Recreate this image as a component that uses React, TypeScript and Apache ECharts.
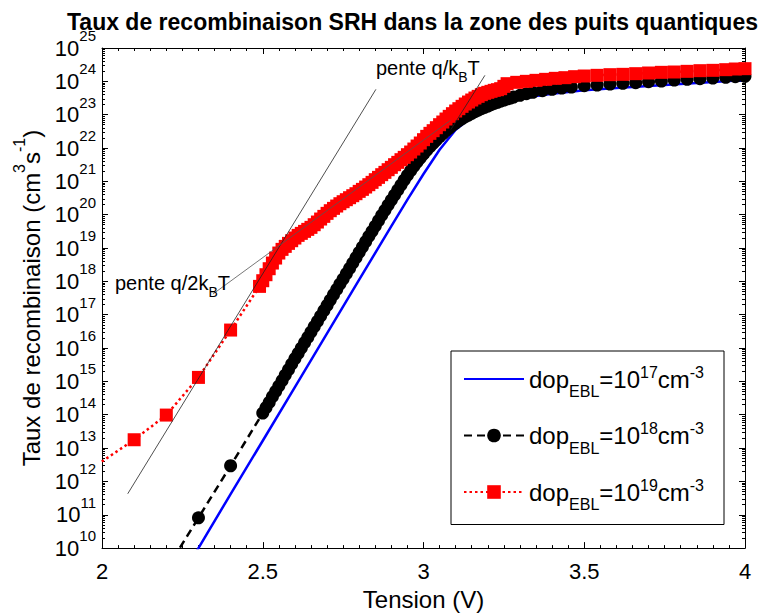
import React, { useEffect, useRef } from 'react';
import * as echarts from 'echarts';

const FONT = "'Liberation Sans', Arial, Helvetica, sans-serif";

const TITLE = 'Taux de recombinaison SRH dans la zone des puits quantiques';
const X_NAME = 'Tension (V)';

// x: tension (V); y: log10 of the recombination rate (cm^-3 s^-1)
const blueVoltage = [2.2, 2.3, 2.4, 2.5, 2.6, 2.7, 2.8, 2.9, 2.95, 3.0, 3.05, 3.1, 3.15, 3.2, 3.25, 3.3, 3.35, 3.4, 3.5, 3.6, 3.7, 3.8, 3.9, 4.0];
const blueLog10Rate = [8.39, 10.0, 11.62, 13.22, 14.83, 16.44, 18.05, 19.66, 20.45, 21.22, 21.95, 22.55, 22.93, 23.17, 23.34, 23.46, 23.56, 23.63, 23.73, 23.8, 23.86, 23.92, 23.98, 24.04];

const blackVoltage = [
  2.2, 2.3, 2.4,
  2.5, 2.51, 2.52, 2.53, 2.54, 2.55, 2.56, 2.57, 2.58, 2.59,
  2.6, 2.61, 2.62, 2.63, 2.64, 2.65, 2.66, 2.67, 2.68, 2.69,
  2.7, 2.71, 2.72, 2.73, 2.74, 2.75, 2.76, 2.77, 2.78, 2.79,
  2.8, 2.81, 2.82, 2.83, 2.84, 2.85, 2.86, 2.87, 2.88, 2.89,
  2.9, 2.91, 2.92, 2.93, 2.94, 2.95, 2.96, 2.97, 2.98, 2.99,
  3.0, 3.01, 3.02, 3.03, 3.04, 3.05, 3.06, 3.07, 3.08, 3.09,
  3.1, 3.11, 3.12, 3.13, 3.14, 3.15, 3.16, 3.17, 3.18, 3.19,
  3.2, 3.21, 3.22, 3.23, 3.24, 3.25, 3.26, 3.27, 3.28,
  3.3, 3.32, 3.34, 3.37, 3.4, 3.43, 3.46, 3.5, 3.54, 3.58,
  3.62, 3.66, 3.7, 3.74, 3.78, 3.82, 3.86, 3.9, 3.94, 3.97, 4.0,
];
const blackLog10Rate = [
  9.35, 10.91, 12.47,
  14.05, 14.21, 14.37, 14.54, 14.7, 14.86, 15.02, 15.19, 15.35, 15.52,
  15.68, 15.84, 16.0, 16.16, 16.32, 16.48, 16.64, 16.8, 16.96, 17.12,
  17.28, 17.44, 17.6, 17.76, 17.92, 18.07, 18.23, 18.39, 18.55, 18.71,
  18.87, 19.03, 19.19, 19.35, 19.5, 19.66, 19.82, 19.98, 20.13, 20.29,
  20.44, 20.59, 20.74, 20.89, 21.04, 21.18, 21.32, 21.45, 21.58, 21.7,
  21.82, 21.93, 22.04, 22.14, 22.24, 22.34, 22.43, 22.52, 22.6, 22.68,
  22.75, 22.82, 22.88, 22.94, 22.99, 23.04, 23.09, 23.14, 23.18, 23.22,
  23.26, 23.3, 23.34, 23.37, 23.41, 23.44, 23.47, 23.5, 23.53,
  23.58, 23.63, 23.67, 23.72, 23.76, 23.8, 23.83, 23.87, 23.89, 23.92,
  23.94, 23.96, 23.99, 24.01, 24.04, 24.06, 24.08, 24.1, 24.12, 24.14, 24.15,
];

const redVoltage = [
  1.9, 2.1, 2.2, 2.3, 2.4,
  2.49, 2.5, 2.51, 2.52, 2.53, 2.54, 2.55, 2.56, 2.57, 2.58, 2.59,
  2.6, 2.61, 2.62, 2.63, 2.64, 2.65, 2.66, 2.67, 2.68, 2.69,
  2.7, 2.71, 2.72, 2.73, 2.74, 2.75, 2.76, 2.77, 2.78, 2.79,
  2.8, 2.81, 2.82, 2.83, 2.84, 2.85, 2.86, 2.87, 2.88, 2.89,
  2.9, 2.91, 2.92, 2.93, 2.94, 2.95, 2.96, 2.97, 2.98, 2.99,
  3.0, 3.01, 3.02, 3.03, 3.04, 3.05, 3.06, 3.07, 3.08, 3.09,
  3.1, 3.11, 3.12, 3.13, 3.14, 3.15, 3.16, 3.17, 3.18, 3.19,
  3.2, 3.21, 3.22, 3.23, 3.24, 3.25, 3.26,
  3.29, 3.32, 3.35, 3.38, 3.41, 3.44, 3.47, 3.5, 3.54, 3.58,
  3.62, 3.66, 3.7, 3.74, 3.78, 3.82, 3.86, 3.9, 3.94, 3.97, 4.0,
];
const redLog10Rate = [
  11.95, 13.25, 13.99, 15.12, 16.54,
  17.85, 18.02, 18.2, 18.38, 18.55, 18.7, 18.85, 18.96, 19.05, 19.14, 19.22,
  19.3, 19.38, 19.44, 19.5, 19.56, 19.62, 19.7, 19.78, 19.87, 19.95,
  20.04, 20.12, 20.19, 20.26, 20.33, 20.39, 20.45, 20.51, 20.57, 20.63,
  20.7, 20.76, 20.83, 20.9, 20.97, 21.05, 21.12, 21.2, 21.27, 21.35,
  21.42, 21.5, 21.57, 21.65, 21.72, 21.8, 21.88, 21.97, 22.06, 22.15,
  22.25, 22.35, 22.44, 22.52, 22.61, 22.7, 22.78, 22.87, 22.95, 23.03,
  23.11, 23.18, 23.25, 23.32, 23.38, 23.44, 23.5, 23.55, 23.6, 23.64,
  23.67, 23.7, 23.73, 23.75, 23.78, 23.85, 23.93,
  23.97, 24.0, 24.03, 24.06, 24.09, 24.11, 24.14, 24.16, 24.18, 24.2,
  24.21, 24.23, 24.25, 24.27, 24.28, 24.3, 24.32, 24.33, 24.35, 24.37, 24.38,
];

// thin slope guide lines [V, log10 rate]
const slopeKTVoltage = [2.08, 2.852];
const slopeKTLog10 = [11.63, 23.76];
const slope2KTVoltage = [2.345, 3.084];
const slope2KTLog10 = [17.62, 22.83];
const slopeKTUpperVoltage = [3.085, 3.191];
const slopeKTUpperLog10 = [22.55, 24.18];

const seriesNames = ['dop17', 'dop18', 'dop19'];
const dopingExponents = ['17', '18', '19'];

const xMin = 2, xMax = 4, xInterval = 0.5;
const yMinExp = 10, yMaxExp = 25;

const minorYTicks: number[] = [];
for (let n = yMinExp; n < yMaxExp; n++) {
  for (let k = 2; k <= 9; k++) minorYTicks.push(n + Math.log10(k));
}

const zip = (a: number[], b: number[]) => a.slice(0, Math.min(a.length, b.length)).map((v, i) => [v, b[i]]);

const black = { color: '#000', width: 1 };

export default function App() {
  const ref = useRef<HTMLDivElement>(null);
  useEffect(() => {
    if (!ref.current) return;
    const chart = echarts.init(ref.current, undefined, { renderer: 'svg' });
    const expMap: Record<string, string> = {};
    seriesNames.forEach((n, i) => (expMap[n] = dopingExponents[i]));

    const baseX = {
      type: 'value', min: xMin, max: xMax, interval: xInterval,
      axisLine: { show: true, onZero: false, lineStyle: black },
      axisTick: { show: true, inside: true, length: 6, lineStyle: black },
      minorTick: { show: true, splitNumber: 10, length: 3, lineStyle: black },
      splitLine: { show: false },
    };
    const majorY = {
      type: 'value', min: yMinExp, max: yMaxExp, interval: 1,
      axisLine: { show: true, onZero: false, lineStyle: black },
      axisTick: { show: true, inside: true, length: 6, lineStyle: black },
      splitLine: { show: false },
    };
    const minorY = {
      type: 'value', min: yMinExp, max: yMaxExp,
      axisLine: { show: false, onZero: false },
      axisTick: { show: true, inside: true, length: 3, lineStyle: black, customValues: minorYTicks },
      axisLabel: { show: false },
      splitLine: { show: false },
    };

    const guide = (name: string, v: number[], l: number[], color: string) => ({
      name, type: 'line', data: zip(v, l), symbol: 'none', silent: true, z: 5,
      lineStyle: { color, width: 0.8 }, clip: true, emphasis: { disabled: true },
    });

    const annotRich = {
      a: { fontSize: 20, lineHeight: 24, fontFamily: FONT, fill: '#000' },
      s: { fontSize: 14, lineHeight: 6, height: 6, verticalAlign: 'bottom', fontFamily: FONT, fill: '#000' },
    };

    const option: any = {
      animation: false,
      textStyle: { fontFamily: FONT, color: '#000' },
      title: {
        text: TITLE, left: 67, top: 10, padding: 0,
        textStyle: { fontSize: 23, fontWeight: 'bold', color: '#000', fontFamily: FONT },
      },
      grid: { left: 102, right: 36, top: 48, bottom: 59, containLabel: false },
      legend: {
        orient: 'vertical', left: 451, top: 351, padding: [13, 20, 12, 12],
        itemWidth: 60, itemHeight: 17, itemGap: 21,
        backgroundColor: '#fff', borderColor: '#000', borderWidth: 1, borderRadius: 0,
        selectedMode: false,
        data: [{ name: seriesNames[0], itemStyle: { opacity: 0 } }, seriesNames[1], seriesNames[2]],
        formatter: (name: string) => `{a|dop}{s|EBL}{a|=10}{p|${expMap[name]}}{a|cm}{p|-3}`,
        textStyle: {
          color: '#000', fontFamily: FONT, fontSize: 24,
          rich: {
            a: { fontSize: 24, lineHeight: 30, fontFamily: FONT, color: '#000' },
            s: { fontSize: 16, lineHeight: 5, height: 5, verticalAlign: 'bottom', fontFamily: FONT, color: '#000' },
            p: { fontSize: 16, lineHeight: 16, verticalAlign: 'top', fontFamily: FONT, color: '#000' },
          },
        },
      },
      xAxis: [
        {
          ...baseX, position: 'bottom',
          name: X_NAME, nameLocation: 'middle', nameGap: 38,
          nameTextStyle: { fontSize: 24, color: '#000', fontFamily: FONT },
          axisLabel: { fontSize: 22, color: '#000', margin: 12, fontFamily: FONT },
        },
        { ...baseX, position: 'top', axisLabel: { show: false } },
      ],
      yAxis: [
        {
          ...majorY, position: 'left',
          name: '{a|Taux de recombinaison (cm}{p|3}{a|s}{p|-1}{a|)}',
          nameLocation: 'middle', nameGap: 50,
          nameTextStyle: {
            fontSize: 24, color: '#000', fontFamily: FONT,
            rich: {
              a: { fontSize: 24, lineHeight: 40, fontFamily: FONT, color: '#000' },
              p: { fontSize: 16, lineHeight: 16, verticalAlign: 'top', fontFamily: FONT, color: '#000' },
            },
          },
          axisLabel: {
            margin: 6, color: '#000',
            formatter: (v: number) => `{b|10}{e|${Math.round(v)}}`,
            rich: {
              b: { fontSize: 22, lineHeight: 40, fontFamily: FONT, color: '#000' },
              e: { fontSize: 15, lineHeight: 15, verticalAlign: 'top', fontFamily: FONT, color: '#000' },
            },
          },
        },
        { ...majorY, position: 'right', axisLabel: { show: false } },
        { ...minorY, position: 'left' },
        { ...minorY, position: 'right' },
      ],
      series: [
        {
          name: seriesNames[0], type: 'line', data: zip(blueVoltage, blueLog10Rate),
          symbol: 'none', clip: true, z: 2, emphasis: { disabled: true },
          lineStyle: { color: '#0000ff', width: 2.5 }, itemStyle: { color: '#0000ff' },
        },
        {
          name: seriesNames[1], type: 'line', data: zip(blackVoltage, blackLog10Rate),
          symbol: 'circle', symbolSize: 13, showSymbol: true, clip: true, z: 2, emphasis: { disabled: true },
          lineStyle: { color: '#000', width: 2.5, type: [8, 5] },
          itemStyle: { color: '#000', borderWidth: 0 },
        },
        {
          name: seriesNames[2], type: 'line', data: zip(redVoltage, redLog10Rate),
          symbol: 'rect', symbolSize: 13, showSymbol: true, clip: true, z: 2, emphasis: { disabled: true },
          lineStyle: { color: '#ff0000', width: 2.5, type: [2.5, 3] },
          itemStyle: { color: '#ff0000', borderWidth: 0 },
        },
        guide('slopeKT', slopeKTVoltage, slopeKTLog10, '#222'),
        guide('slope2KT', slope2KTVoltage, slope2KTLog10, '#555'),
        guide('slopeKTUpper', slopeKTUpperVoltage, slopeKTUpperLog10, '#222'),
      ],
      graphic: [
        {
          type: 'text', x: 376, y: 68, z: 100,
          style: { text: '{a|pente q/k}{s|B}{a|T}', fill: '#000', verticalAlign: 'middle', align: 'left', rich: annotRich },
        },
        {
          type: 'text', x: 115, y: 283, z: 100,
          style: { text: '{a|pente q/2k}{s|B}{a|T}', fill: '#000', verticalAlign: 'middle', align: 'left', rich: annotRich },
        },
      ],
    };
    chart.setOption(option);
    return () => chart.dispose();
  }, []);
  return <div ref={ref} style={{ position: 'fixed', left: 0, top: 0, width: 781, height: 616, background: '#fff' }} />;
}
